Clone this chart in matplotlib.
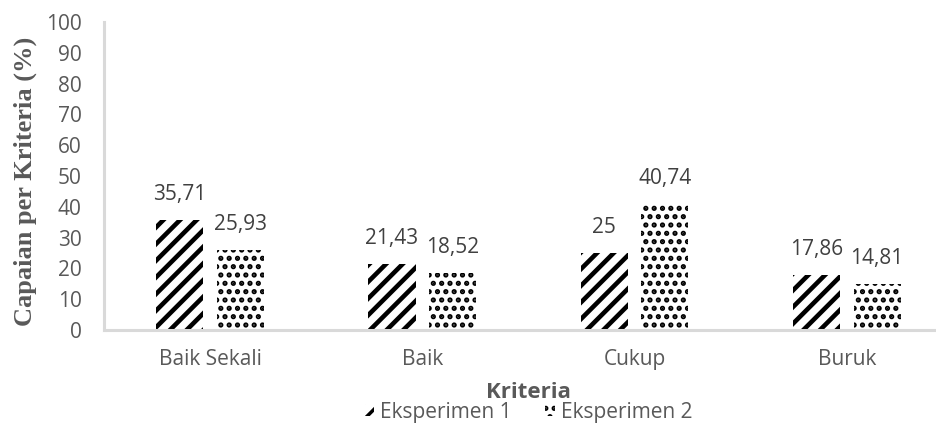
import numpy as np
import matplotlib
matplotlib.use("Agg")
import matplotlib.pyplot as plt

kriteria = ["Baik Sekali", "Baik", "Cukup", "Buruk"]
eksperimen_1 = [35.71, 21.43, 25, 17.86]
eksperimen_2 = [25.93, 18.52, 40.74, 14.81]
label_1 = ["35,71", "21,43", "25", "17,86"]
label_2 = ["25,93", "18,52", "40,74", "14,81"]
yticks = [0, 10, 20, 30, 40, 50, 60, 70, 80, 90, 100]

plt.rcParams["font.family"] = ["Open Sans", "DejaVu Sans"]
grey_axis = "#d9d9d9"
grey_text = "#595959"

fig = plt.figure(figsize=(9.37, 4.23), dpi=100)
# plot area runs a little past the right edge of the figure
ax = fig.add_axes([0.111, 0.22, 0.906, 0.728])
mid = 0.111 + 0.906 / 2

x = np.arange(len(kriteria))
w = 0.222
off = 0.143

plt.rcParams["hatch.linewidth"] = 3.3
b1 = ax.bar(x - off, eksperimen_1, w, color="white", edgecolor="black",
            linewidth=0, hatch="//", label="Eksperimen 1")
plt.rcParams["hatch.linewidth"] = 2.5
b2 = ax.bar(x + off, eksperimen_2, w, color="white", edgecolor="black",
            linewidth=0, hatch="..", label="Eksperimen 2")
for bars, lw in [(b1, 3.3), (b2, 2.5)]:
    for p in bars:
        if hasattr(p, "set_hatch_linewidth"):
            p.set_hatch_linewidth(lw)

ax.bar_label(b1, labels=label_1, padding=11, fontsize=15, color="#404040")
ax.bar_label(b2, labels=label_2, padding=11, fontsize=15, color="#404040")

ax.set_xlim(-0.5, 3.5)
ax.set_ylim(0, 100)
ax.set_yticks(yticks)
ax.set_xticks(x)
ax.set_xticklabels(kriteria)
ax.tick_params(axis="both", length=0, labelsize=15, colors=grey_text)
ax.tick_params(axis="x", pad=14)
ax.tick_params(axis="y", pad=16)

for s in ["top", "right"]:
    ax.spines[s].set_visible(False)
for s in ["left", "bottom"]:
    ax.spines[s].set_color(grey_axis)
    ax.spines[s].set_linewidth(2.2)

fig.text(0.027, 0.572, "Capaian per Kriteria (%)", rotation=90,
         ha="center", va="center", family=["Liberation Serif"],
         fontweight="bold", fontsize=19, color=grey_text)
fig.text(mid, 0.071, "Kriteria", ha="center", va="center", fontsize=16,
         fontweight="bold", color=grey_text)

leg = fig.legend(handles=[b1, b2], loc="center", bbox_to_anchor=(mid, 0.026),
                 ncol=2, frameon=False, fontsize=15, handlelength=0.45,
                 handleheight=0.45, handletextpad=0.3, columnspacing=1.6,
                 borderpad=0, labelcolor=grey_text)

fig.savefig("out.png", dpi=100)
